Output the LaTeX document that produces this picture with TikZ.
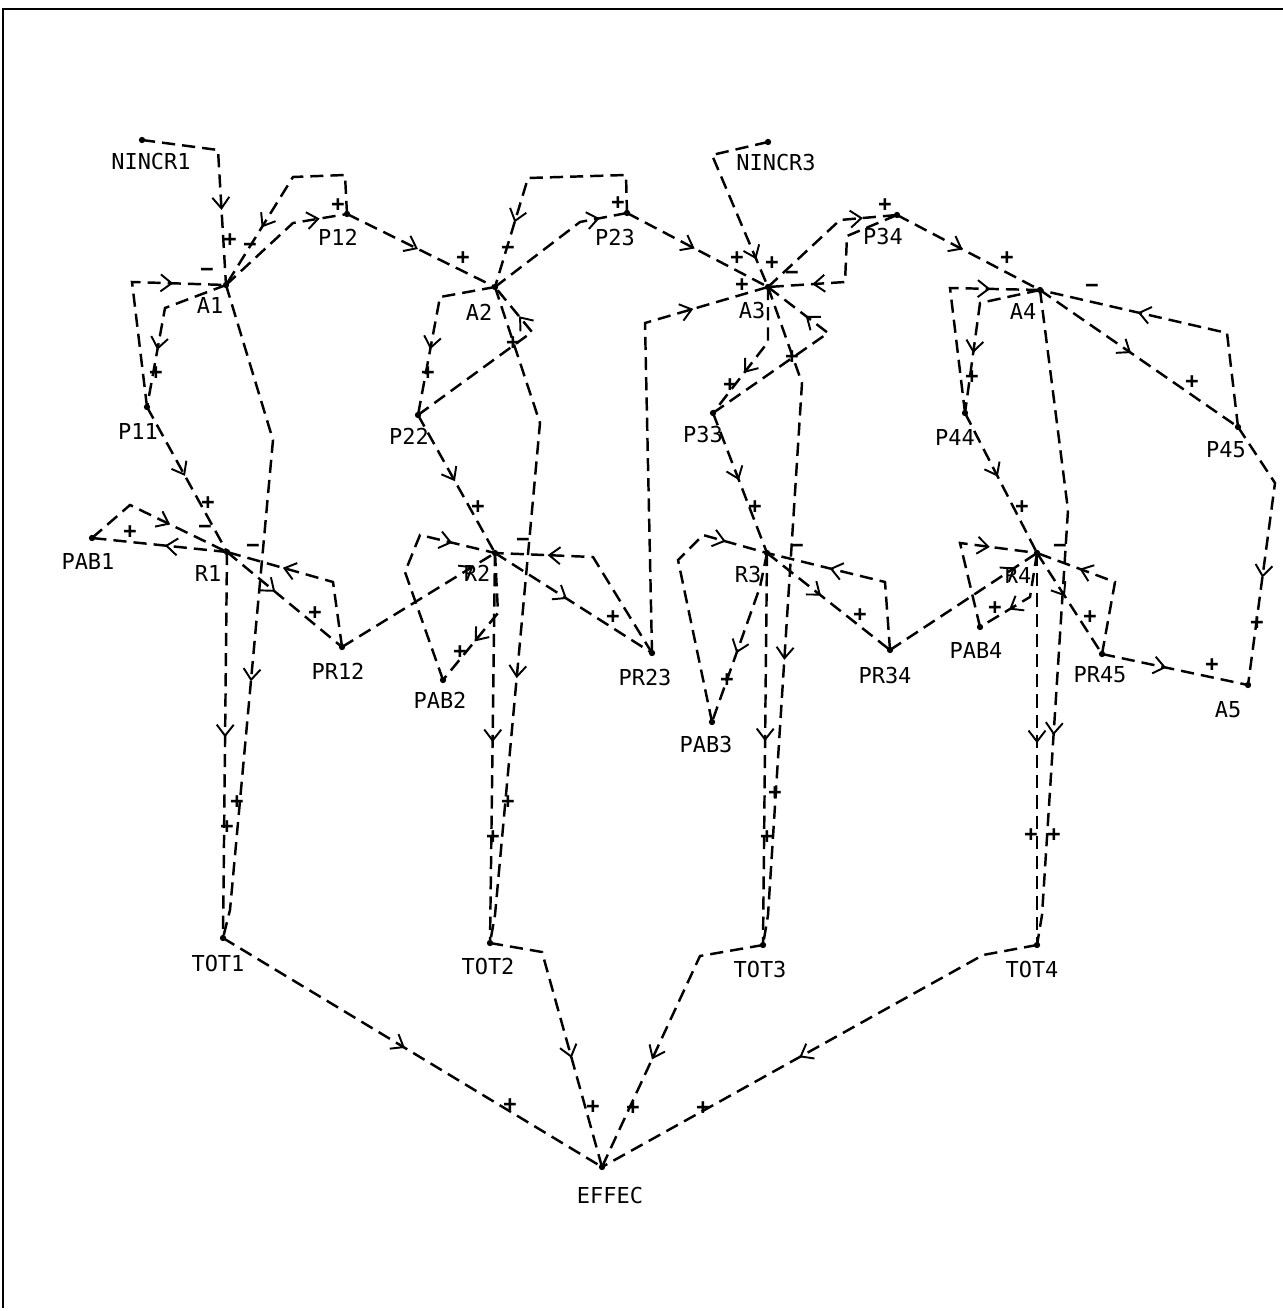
\documentclass[tikz,border=0pt]{standalone}
\usepackage{fontspec}
\setmonofont{DejaVu Sans Mono}
\usetikzlibrary{arrows.meta,decorations.markings}

\tikzset{
  link/.style={line width=1.4pt, dash pattern=on 7.5pt off 4pt},
  tipat/.style={postaction={decorate},
    decoration={markings, mark=at position #1 with {\arrow[line width=1.1pt]{Straight Barb[length=2.2mm,width=3.4mm]}}}},
  lbl/.style={font=\fontsize{12.5}{13}\selectfont\ttfamily, inner sep=0pt},
  sgn/.style={font=\fontsize{12.5}{13}\selectfont\ttfamily\bfseries, inner sep=0pt}
}

\begin{document}
\begin{tikzpicture}[x=0.02cm, y=-0.02cm]
  \useasboundingbox (0,0) rectangle (1283,1311);
  % edge of the sheet
  \draw[line width=1.6pt] (3,1308) -- (3,9) -- (1283,9);

  % points of the graph
  \coordinate (NINCR1) at (142,140);
  \coordinate (A1) at (226,285);
  \coordinate (P12) at (347,214);
  \coordinate (P11) at (147,407);
  \coordinate (A2) at (495,287);
  \coordinate (P23) at (627,213);
  \coordinate (P22) at (418,415);
  \coordinate (NINCR3) at (768,142);
  \coordinate (A3) at (768,287);
  \coordinate (P34) at (897,215);
  \coordinate (A4) at (1040,290);
  \coordinate (P33) at (713,413);
  \coordinate (P44) at (965,413);
  \coordinate (P45) at (1238,427);
  \coordinate (R1) at (227,552);
  \coordinate (PAB1) at (92,538);
  \coordinate (PR12) at (342,647);
  \coordinate (R2) at (495,553);
  \coordinate (PAB2) at (443,680);
  \coordinate (PR23) at (652,653);
  \coordinate (R3) at (767,553);
  \coordinate (PAB3) at (712,722);
  \coordinate (PR34) at (890,650);
  \coordinate (R4) at (1037,553);
  \coordinate (PAB4) at (980,627);
  \coordinate (PR45) at (1102,654);
  \coordinate (A5) at (1248,685);
  \coordinate (TOT1) at (223,938);
  \coordinate (TOT2) at (490,943);
  \coordinate (TOT3) at (763,945);
  \coordinate (TOT4) at (1037,945);
  \coordinate (EFFEC) at (602,1167);

  \foreach \p in {NINCR1,A1,P12,P11,A2,P23,P22,NINCR3,A3,P34,A4,P33,P44,P45,
                  R1,PAB1,PR12,R2,PAB2,PR23,R3,PAB3,PR34,R4,PAB4,PR45,A5,
                  TOT1,TOT2,TOT3,TOT4,EFFEC}
    \fill (\p) circle (1.8pt);

  % names
  \foreach \n/\x/\y in {NINCR1/151/162, A1/210/305, P12/338/237, P11/138/431,
                        A2/479/312, P23/615/238, P22/409/436, NINCR3/776/163,
                        A3/752/311, P34/883/237, A4/1023/311, P33/703/435,
                        P44/955/437, P45/1226/450, R1/208/573, PAB1/88/561,
                        PR12/338/671, R2/477/573, PAB2/440/700, PR23/645/677,
                        R3/748/575, PAB3/706/744, PR34/885/675, R4/1018/575,
                        PAB4/976/650, PR45/1100/675, A5/1228/710, TOT1/218/963,
                        TOT2/488/966, TOT3/760/969, TOT4/1032/969, EFFEC/610/1195}
    \node[lbl] (t\n) at (\x,\y) {\n};

  % first column
  \draw[link, tipat=0.645] (NINCR1) -- (218,150) -- (A1);
  \draw[link, tipat=0.81] (A1) -- (293,223) -- (P12);
  \draw[link, tipat=0.69] (P12) -- (345,175) -- (293,177) -- (A1);
  \draw[link, tipat=0.65] (A1) -- (165,308) -- (P11);
  \draw[link, tipat=0.76] (P11) -- (132,282) -- (A1);
  \draw[link, tipat=0.48] (P12) -- (A2);
  \draw[link, tipat=0.61] (A1) -- (273,440) -- (230,910) -- (TOT1);
  \draw[link, tipat=0.475] (P11) -- (R1);
  \draw[link, tipat=0.46] (R1) -- (PAB1);
  \draw[link, tipat=0.60] (PAB1) -- (130,505) -- (R1);
  \draw[link, tipat=0.42] (R1) -- (PR12);
  \draw[link, tipat=0.67] (PR12) -- (333,582) -- (R1);
  \draw[link, tipat=0.48] (R1) -- (TOT1);
  \draw[link, tipat=0.86] (PR12) -- (R2);

  % second column
  \draw[link, tipat=0.82] (A2) -- (580,222) -- (P23);
  \draw[link, tipat=0.73] (P23) -- (626,175) -- (528,178) -- (A2);
  \draw[link, tipat=0.62] (A2) -- (440,297) -- (P22);
  \draw[link, tipat=0.81] (P22) -- (532,332) -- (A2);
  \draw[link, tipat=0.48] (P23) -- (A3);
  \draw[link, tipat=0.60] (A2) -- (540,423) -- (495,915) -- (TOT2);
  \draw[link, tipat=0.48] (P22) -- (R2);
  \draw[link, tipat=0.66] (R2) -- (498,613) -- (PAB2);
  \draw[link, tipat=0.81] (PAB2) -- (405,572) -- (420,535) -- (R2);
  \draw[link, tipat=0.46] (R2) -- (PR23);
  \draw[link, tipat=0.75] (PR23) -- (593,557) -- (R2);
  \draw[link, tipat=0.485] (R2) -- (TOT2);
  \draw[link, tipat=0.83] (PR23) -- (645,323) -- (A3);

  % third column
  \draw[link, tipat=0.85] (NINCR3) -- (712,155) -- (A3);
  \draw[link, tipat=0.78] (A3) -- (840,220) -- (P34);
  \draw[link, tipat=0.75] (P34) -- (847,236) -- (845,282) -- (A3);
  \draw[link, tipat=0.46] (P34) -- (A4);
  \draw[link, tipat=0.65] (A3) -- (768,342) -- (P33);
  \draw[link, tipat=0.78] (P33) -- (828,333) -- (A3);
  \draw[link, tipat=0.57] (A3) -- (802,383) -- (768,915) -- (TOT3);
  \draw[link, tipat=0.48] (P33) -- (R3);
  \draw[link, tipat=0.59] (R3) -- (760,587) -- (PAB3);
  \draw[link, tipat=0.84] (PAB3) -- (678,560) -- (703,535) -- (R3);
  \draw[link, tipat=0.44] (R3) -- (PR34);
  \draw[link, tipat=0.66] (PR34) -- (885,582) -- (R3);
  \draw[link, tipat=0.48] (R3) -- (TOT3);
  \draw[link, tipat=0.85] (PR34) -- (R4);

  % fourth column
  \draw[link, tipat=0.46] (A4) -- (P45);
  \draw[link, tipat=0.65] (P45) -- (1227,333) -- (A4);
  \draw[link, tipat=0.65] (A4) -- (980,303) -- (P44);
  \draw[link, tipat=0.77] (P44) -- (950,288) -- (A4);
  \draw[link, tipat=0.68] (A4) -- (1068,510) -- (1042,915) -- (TOT4);
  \draw[link, tipat=0.455] (P44) -- (R4);
  \draw[link, tipat=0.67] (R4) -- (1030,597) -- (PAB4);
  \draw[link, tipat=0.71] (PAB4) -- (960,543) -- (R4);
  \draw[link, tipat=0.43] (R4) -- (PR45);
  \draw[link, tipat=0.71] (PR45) -- (1115,582) -- (R4);
  \draw[link, tipat=0.485] (R4) -- (TOT4);
  \draw[link, tipat=0.44] (PR45) -- (A5);
  \draw[link, tipat=0.60] (P45) -- (1275,483) -- (A5);

  % totals
  \draw[link, tipat=0.48] (TOT1) -- (EFFEC);
  \draw[link, tipat=0.59] (TOT2) -- (542,952) -- (EFFEC);
  \draw[link, tipat=0.60] (TOT3) -- (700,956) -- (EFFEC);
  \draw[link, tipat=0.54] (TOT4) -- (983,955) -- (EFFEC);

  % signs
  \foreach \x/\y [count=\i] in {230/240, 338/205, 156/373, 463/258, 237/802,
      208/503, 130/532, 315/613, 227/827, 618/203, 428/373, 513/343, 737/258,
      508/802, 478/507, 460/652, 613/617, 493/837, 742/285, 772/263, 885/205,
      1007/258, 730/385, 792/357, 775/793, 755/507, 727/680, 860/615, 767/837,
      1192/382, 972/377, 1054/835, 1031/835, 1022/507, 995/608, 1090/617,
      1212/665, 1257/623, 510/1105, 593/1107, 633/1108, 703/1108}
    \node[sgn] (plus\i) at (\x,\y) {+};
  \foreach \x/\y [count=\i] in {250/247, 207/272, 205/529, 253/548, 508/250,
      523/542, 792/275, 797/548, 1092/288, 1060/548}
    \node[sgn] (minus\i) at (\x,\y) {−};
\end{tikzpicture}
\end{document}
